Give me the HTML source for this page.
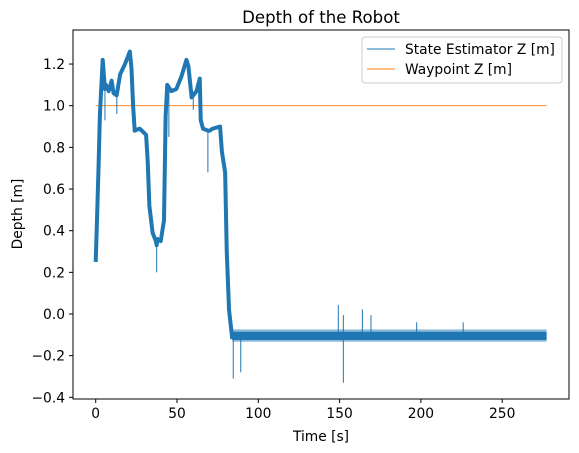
<!DOCTYPE html>
<html><head><meta charset="utf-8"><style>
body{margin:0;background:#fff}
svg{display:block;font-family:"DejaVu Sans","Liberation Sans",sans-serif}
</style></head><body>
<svg id="chart" width="579" height="453" viewBox="0 0 579 453">
<rect width="579" height="453" fill="#fff"/>
<text x="321" y="23" font-size="16.6" text-anchor="middle" fill="#000">Depth of the Robot</text>
<g id="plot"></g>
<text x="321" y="441" font-size="13.8" text-anchor="middle">Time [s]</text>
<text transform="translate(22,214) rotate(-90)" font-size="13.8" text-anchor="middle">Depth [m]</text>
</svg>
<script>
const times=[0,0.6,1.8,2.6,4.3,5.7,6.3,8,9.8,11,12.9,15,18,21,22,23,24,27,31,32,33,35,37,37.5,38,40,42,43,44,46.5,49.6,52.7,55.8,57,59,62,64,64.6,66,69,70,72,76.5,77.6,79.6,80.6,82,84];
const depths=[0.25,0.40,0.72,0.96,1.22,1.08,1.10,1.07,1.12,1.06,1.05,1.15,1.20,1.26,1.18,1.00,0.88,0.89,0.86,0.73,0.52,0.39,0.35,0.33,0.36,0.35,0.45,0.95,1.10,1.07,1.08,1.14,1.22,1.19,1.04,1.07,1.13,0.93,0.89,0.88,0.88,0.89,0.90,0.78,0.68,0.30,0.02,-0.12];
const bandTimes=[84,277.3];
const bandHigh=[-0.085,-0.085];
const bandLow=[-0.125,-0.125];
const bandOuterHigh=[-0.074,-0.074];
const bandOuterLow=[-0.133,-0.133];
const spikeTimes=[84.6,89.2,149.2,152.3,152.3,164,169.3,197.4,226,37.5,69,5.7,13,45,60];
const spikeValues=[-0.31,-0.28,0.043,-0.005,-0.33,0.022,-0.005,-0.04,-0.04,0.20,0.68,0.93,0.96,0.85,0.98];
const spikeBases=[-0.1,-0.1,-0.1,-0.1,-0.1,-0.1,-0.1,-0.1,-0.1,0.35,0.88,1.08,1.05,1.08,1.06];
const waypointTimes=[0,277.3];
const waypointValues=[1.0,1.0];
const xTicks=[0,50,100,150,200,250];
const yTicks=[-0.4,-0.2,0.0,0.2,0.4,0.6,0.8,1.0,1.2];
const yTickLabels=["−0.4","−0.2","0.0","0.2","0.4","0.6","0.8","1.0","1.2"];

const L=73,R=569,T=30,B=399;
const xs=t=>95.7+t*1.626;
const ys=v=>314-v*208.3;
const NS="http://www.w3.org/2000/svg";
const g=document.getElementById('plot');
function mk(tag,attrs){const e=document.createElementNS(NS,tag);for(const k in attrs)e.setAttribute(k,attrs[k]);g.appendChild(e);return e;}

let wp=mk('polyline',{points:waypointTimes.map((t,i)=>xs(t)+','+ys(waypointValues[i])).join(' '),fill:'none',stroke:'#ff7f0e','stroke-width':0.9});



let bo=mk('polygon',{points:bandTimes.map((t,i)=>xs(t)+','+ys(bandOuterHigh[i])).concat(bandTimes.slice().reverse().map((t,i)=>xs(t)+','+ys(bandOuterLow[bandTimes.length-1-i]))).join(' '),fill:'#1f77b4','fill-opacity':0.5});


let bi=mk('polygon',{points:bandTimes.map((t,i)=>xs(t)+','+ys(bandHigh[i])).concat(bandTimes.slice().reverse().map((t,i)=>xs(t)+','+ys(bandLow[bandTimes.length-1-i]))).join(' '),fill:'#1f77b4'});



spikeTimes.forEach((t,i)=>{
  let s=mk('line',{x1:xs(t),x2:xs(t),y1:ys(spikeBases[i]),y2:ys(spikeValues[i]),stroke:'#1f77b4','stroke-width':1});
  
  
});

let ln=mk('polyline',{points:times.map((t,i)=>xs(t)+','+ys(depths[i])).join(' '),fill:'none',stroke:'#1f77b4','stroke-width':4,'stroke-linejoin':'round'});



let fr=mk('rect',{x:L,y:T,width:R-L,height:B-T,fill:'none',stroke:'#000','stroke-width':1});



xTicks.forEach(t=>{
  let tk=mk('line',{x1:xs(t),x2:xs(t),y1:B,y2:B+4,stroke:'#000'});
  
  
  let tx=mk('text',{x:xs(t),y:B+19,'font-size':13.8,'text-anchor':'middle'});
  tx.textContent=t;
  
  
});
yTicks.forEach((v,i)=>{
  let tk=mk('line',{x1:L-4,x2:L,y1:ys(v),y2:ys(v),stroke:'#000'});
  
  
  let tx=mk('text',{x:L-8,y:ys(v)+5,'font-size':13.8,'text-anchor':'end'});
  tx.textContent=yTickLabels[i];
  
  
});

let lb=mk('rect',{x:362,y:37,width:200,height:46,rx:3,fill:'#fff','fill-opacity':0.8,stroke:'#ccc'});


[['State Estimator Z [m]','#1f77b4',49],['Waypoint Z [m]','#ff7f0e',69]].forEach(([lab,c,y])=>{
  let l=mk('line',{x1:367,x2:395,y1:y,y2:y,stroke:c,'stroke-width':1});
  
  
  let t=mk('text',{x:405,y:y+5,'font-size':13.8});
  t.textContent=lab;
  
  
});
</script>
</body></html>
